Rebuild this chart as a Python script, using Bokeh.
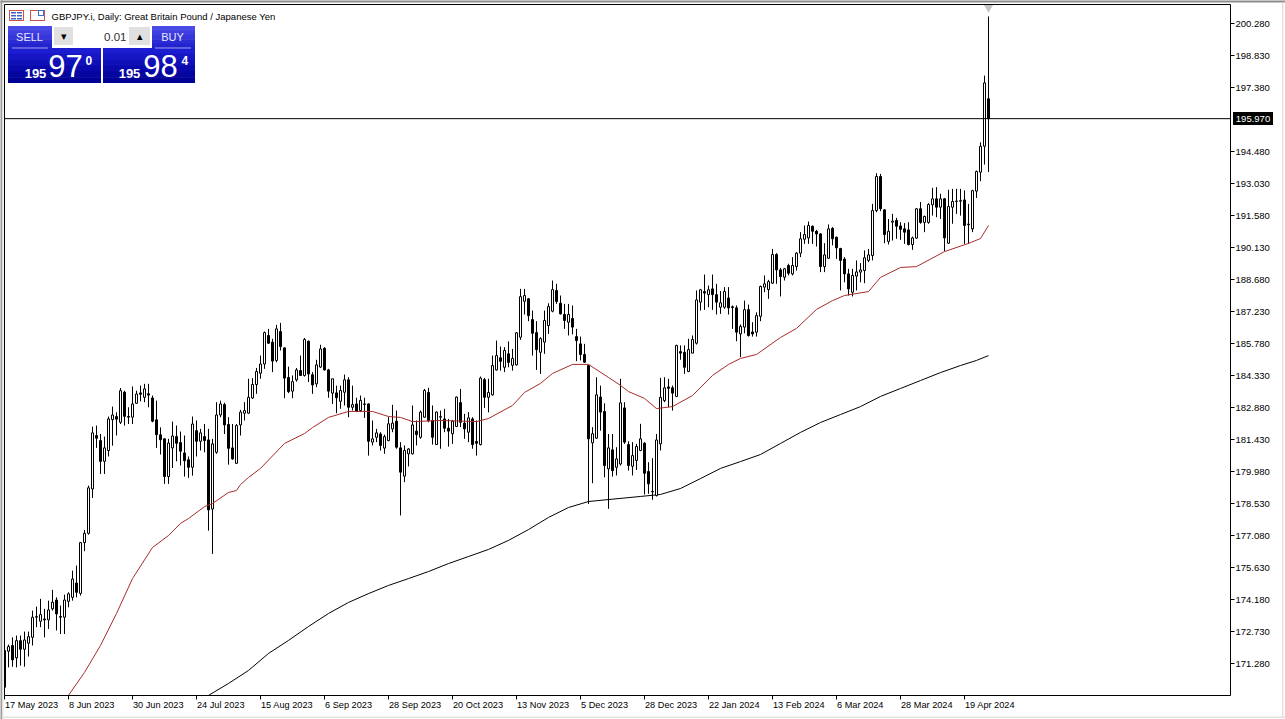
from bokeh.plotting import figure
from bokeh.embed import file_html
from bokeh.resources import INLINE
from bokeh.models import BoxAnnotation, Label, FixedTicker, LinearAxis, Range1d

opens = [
171.88,171.85,172.11,171.55,172.33,171.94,172.21,172.48,173.39,173.21,
173.31,173.27,173.77,174.17,173.42,173.39,174.11,174.29,174.94,174.47,
176.77,177.19,179.20,181.62,181.39,180.45,180.94,182.34,182.48,182.22,
183.58,182.48,182.45,183.08,183.55,183.35,183.51,183.32,182.33,181.65,
181.47,179.76,181.06,181.57,181.30,180.83,180.52,180.18,181.84,181.36,
181.57,181.42,178.29,180.86,182.55,183.02,182.12,181.06,180.36,182.10,
182.63,182.63,183.32,183.93,184.44,184.86,186.15,185.85,185.02,186.33,
185.59,184.25,183.63,184.14,184.56,184.34,185.89,184.37,183.96,184.72,
185.57,184.59,183.54,183.55,183.17,183.58,184.14,182.90,183.05,182.75,
183.05,183.05,181.32,181.54,181.69,181.05,181.39,181.92,182.27,181.06,
179.78,180.79,180.79,181.82,181.54,182.45,183.57,182.30,181.21,182.45,
182.37,181.95,181.70,182.03,183.11,182.18,181.77,182.37,181.35,181.21,
184.15,183.35,183.46,184.59,185.14,184.71,185.32,184.80,184.82,186.07,
187.70,187.81,186.87,186.28,185.39,185.85,186.60,187.25,188.19,187.61,
187.10,186.75,186.92,186.10,185.77,185.29,184.79,181.29,181.50,183.36,
182.71,180.11,180.97,180.18,180.33,182.87,181.21,180.23,180.49,180.94,
181.27,179.99,179.09,178.90,181.24,183.20,183.82,183.78,183.39,185.42,
185.39,184.52,185.35,185.80,187.66,188.14,188.00,188.26,188.00,187.43,
187.43,187.85,187.45,187.40,186.22,186.53,187.32,186.31,186.30,187.02,
188.34,188.23,188.52,189.82,189.12,188.79,189.32,188.94,189.27,189.88,
190.51,190.57,191.10,190.87,190.75,189.27,189.65,191.00,190.60,190.09,
189.61,188.94,188.11,188.84,189.02,189.09,189.55,189.77,191.81,193.35,
191.84,190.41,191.28,191.36,191.11,190.98,190.93,190.27,190.56,191.89,
191.27,191.27,192.07,192.34,191.96,192.34,190.33,191.96,192.22,192.23,
192.29,191.20,190.98,192.69,193.55,194.72,196.87]

highs = [
171.88,172.15,172.48,172.56,172.56,172.74,172.74,173.69,173.87,174.22,
173.77,174.14,174.63,174.29,173.92,174.41,174.52,175.50,175.73,176.80,
177.34,179.35,182.02,182.07,181.69,181.57,182.48,182.93,182.67,183.77,
183.65,182.90,183.84,183.65,183.88,183.96,183.96,183.43,183.20,181.99,
181.47,181.47,182.25,182.07,181.80,181.62,180.67,182.48,182.30,181.92,
182.14,181.92,181.47,183.13,183.20,183.10,182.45,182.14,182.14,182.78,
183.13,184.19,184.22,184.68,185.24,186.33,186.45,186.00,186.63,186.72,
185.59,184.74,184.34,184.68,185.24,186.04,185.92,184.49,185.05,185.73,
185.62,184.64,184.19,183.88,183.88,184.38,184.26,183.88,183.33,183.43,
183.33,183.08,182.30,181.92,181.77,181.66,182.45,183.01,182.75,181.32,
181.17,181.05,182.98,182.30,182.75,183.73,183.78,182.98,182.71,182.75,
182.83,182.37,182.33,183.39,183.73,182.60,182.68,182.45,182.30,184.29,
184.23,184.19,185.24,185.92,185.65,185.62,185.88,185.54,186.30,188.26,
188.26,187.85,187.28,186.80,186.07,187.28,187.61,188.64,188.49,187.96,
187.58,187.58,187.51,186.45,186.10,185.77,184.82,182.00,184.26,183.88,
183.08,181.69,181.69,181.09,184.19,183.13,181.36,181.32,181.24,182.15,
181.32,180.41,180.59,181.69,184.23,184.26,184.19,183.88,185.73,185.70,
185.70,186.00,186.15,188.19,188.26,188.91,188.41,188.91,188.49,188.16,
188.34,188.34,187.51,187.51,186.65,187.73,187.55,186.75,187.20,188.41,
188.87,188.67,190.07,189.88,189.21,189.21,189.40,189.70,189.92,190.83,
191.13,191.31,191.13,190.93,190.78,190.33,191.18,191.06,190.63,190.12,
189.70,189.17,189.17,189.55,189.43,190.00,190.07,192.11,193.50,193.47,
191.86,191.43,191.66,191.48,191.28,191.24,191.28,190.63,191.92,192.19,
191.58,192.14,192.84,192.87,192.57,192.38,192.75,192.79,192.79,192.79,
192.72,192.11,192.75,193.62,194.90,197.92,200.60]

lows = [
170.14,171.12,171.15,171.12,171.20,171.15,171.61,172.11,172.94,172.94,
172.48,172.86,173.69,172.79,172.63,172.63,173.84,174.14,174.29,174.37,
176.38,177.13,178.79,181.06,179.88,179.88,180.67,181.16,181.62,182.14,
182.07,182.14,182.14,183.05,183.17,183.13,182.90,182.22,181.06,180.76,
179.43,179.43,180.15,180.45,180.26,179.76,179.70,179.80,180.67,180.94,
180.86,177.31,176.26,180.79,182.45,181.69,180.30,180.52,180.34,181.62,
182.30,182.60,183.28,183.51,184.19,184.64,185.77,184.49,184.94,185.47,
183.31,183.54,183.31,184.06,184.34,184.29,184.04,183.51,183.81,184.68,
184.56,183.33,183.05,182.63,182.83,182.98,182.45,182.75,182.68,182.68,
182.42,180.71,181.17,181.32,180.94,180.79,181.36,181.77,181.02,178.00,
179.51,180.22,180.76,181.17,181.47,182.42,182.22,181.21,181.20,181.02,
181.77,181.12,181.24,182.00,182.00,181.47,181.32,181.02,180.71,181.17,
182.87,182.67,183.43,184.56,184.56,184.49,184.71,184.56,184.79,185.95,
187.10,186.80,185.24,184.59,184.41,185.32,186.22,187.20,187.58,187.10,
186.45,186.15,186.20,184.99,185.02,184.91,178.52,179.46,181.47,181.84,
179.73,178.30,179.76,179.81,180.26,181.24,180.03,179.81,180.06,180.91,
178.95,178.98,178.71,178.86,180.94,183.13,182.90,182.75,183.36,185.05,
184.41,184.49,185.35,185.74,187.28,187.31,187.43,187.31,187.10,187.13,
187.36,187.10,186.45,185.89,185.17,186.25,186.10,186.10,186.10,186.80,
188.11,187.81,188.49,188.49,187.92,188.64,188.87,188.87,189.09,189.70,
190.30,190.30,190.30,190.18,189.02,189.02,189.62,190.23,189.62,188.19,
188.56,187.96,187.92,188.19,188.56,188.52,189.47,189.55,191.73,191.78,
190.33,190.27,190.45,190.53,190.48,190.30,190.23,190.03,190.53,191.21,
190.83,191.21,191.58,191.51,191.43,189.97,190.30,191.21,191.66,191.58,
190.30,190.30,190.83,192.38,193.14,193.89,193.55]

closes = [
170.22,172.06,171.46,172.33,171.94,172.36,172.51,173.39,173.42,173.51,
173.27,173.72,174.07,173.54,173.39,174.17,174.45,175.12,174.52,176.77,
177.19,179.25,181.74,181.50,180.45,181.06,182.37,182.55,182.36,183.65,
182.49,182.45,183.05,183.50,183.49,183.73,183.45,182.27,181.66,181.43,
179.76,181.28,181.60,181.27,180.91,180.48,180.18,182.14,181.36,181.74,
181.39,178.25,181.24,182.55,183.05,182.10,181.04,180.56,182.07,182.68,
182.75,183.35,183.93,184.52,184.86,186.28,185.80,184.99,186.45,185.65,
184.22,183.61,184.06,184.59,184.34,185.97,184.41,183.91,184.82,185.54,
184.59,183.63,184.19,183.33,183.66,184.14,182.90,183.02,182.71,183.21,
183.03,181.36,181.47,181.74,181.17,181.57,182.15,182.18,181.09,179.96,
180.94,181.01,182.10,181.66,182.68,183.66,182.30,181.54,182.68,182.48,
181.95,181.82,182.27,183.36,182.22,181.92,182.42,181.21,181.27,184.22,
183.35,183.57,184.79,185.24,184.98,185.47,184.93,185.11,186.27,187.91,
187.96,187.05,186.25,185.51,186.01,186.83,187.46,188.23,187.69,187.13,
186.83,187.10,186.53,185.92,185.29,184.94,181.47,181.70,183.46,182.68,
180.26,181.06,180.03,180.56,183.10,181.32,180.26,180.71,181.12,181.47,
179.91,179.43,179.07,181.42,183.35,183.78,183.76,183.54,185.70,185.35,
184.71,185.51,185.97,187.76,188.22,188.07,188.22,188.00,187.66,187.63,
188.14,187.40,187.42,186.30,186.56,187.32,186.15,186.22,187.05,188.37,
188.49,188.59,189.82,189.12,188.82,189.17,188.97,189.32,189.88,190.53,
190.72,191.13,190.87,190.75,189.27,189.80,190.98,190.53,190.12,189.55,
188.94,188.26,188.87,189.03,189.12,189.67,189.80,191.81,193.35,191.89,
190.72,190.87,191.33,191.10,190.96,190.83,190.27,190.57,191.89,191.27,
191.54,192.08,192.34,191.96,192.34,190.57,191.99,192.22,192.24,192.26,
191.13,191.17,192.71,193.58,194.72,197.59,195.97]

ma50_bar = [16,20,24,28,32,37,41,44,46,50,52,56,58,59,61,64,70,75,77,81,86,92,96,99,102,109,118,121,127,130,134,137,142,146,151,154,156,160,163,167,172,177,181,184,188,194,198,203,207,210,216,219,224,228,235,241,244,246]
ma50_val = [169.85,170.89,172.11,173.56,175.14,176.55,177.09,177.64,177.86,178.40,178.54,179.04,179.13,179.40,179.72,180.13,181.26,181.71,181.98,182.44,182.71,182.71,182.48,182.44,182.25,182.30,182.25,182.39,182.98,183.57,183.98,184.43,184.84,184.84,184.25,183.89,183.61,183.30,182.84,182.93,183.43,184.34,184.84,185.11,185.29,186.06,186.47,187.33,187.73,187.96,188.14,188.78,189.23,189.27,189.95,190.32,190.54,191.13]
ma200_bar = [51,56,61,66,71,76,81,86,91,96,101,106,111,116,121,126,131,136,141,146,151,159,164,169,174,179,184,189,194,199,204,209,214,219,224,229,234,239,243,246]
ma200_val = [169.85,170.39,170.98,171.75,172.34,172.97,173.56,174.06,174.46,174.83,175.14,175.46,175.82,176.14,176.46,176.87,177.36,177.91,178.36,178.63,178.72,178.86,178.95,179.22,179.67,180.13,180.44,180.76,181.26,181.76,182.21,182.57,182.93,183.39,183.75,184.11,184.47,184.79,185.02,185.24]

price_ticks = [200.28,198.83,197.38,194.48,193.03,191.58,190.13,188.68,187.23,185.78,184.33,182.88,181.43,179.98,178.53,177.08,175.63,174.18,172.73,171.28]
date_ticks = list(range(0, 256, 16))
date_labels = ["17 May 2023","8 Jun 2023","30 Jun 2023","24 Jul 2023","15 Aug 2023","6 Sep 2023","28 Sep 2023","20 Oct 2023","13 Nov 2023","5 Dec 2023","28 Dec 2023","22 Jan 2024","13 Feb 2024","6 Mar 2024","28 Mar 2024","19 Apr 2024"]
last_price = 195.97
FONT = "Liberation Sans"

def X(px):
    return (px - 4) / 4
def Y(py):
    return 200.28 - (py - 23) / 22.08

p = figure(width=1285, height=719, output_backend="svg", toolbar_location=None,
           x_range=Range1d(X(0), X(1285)), y_range=Range1d(Y(719), Y(0)),
           x_axis_location=None, y_axis_location=None,
           min_border_left=0, min_border_right=0, min_border_top=0, min_border_bottom=0)
p.grid.visible = False
p.background_fill_color = "white"
p.border_fill_color = "white"
p.outline_line_color = None

xs = list(range(len(opens)))
tops = [max(o, c) for o, c in zip(opens, closes)]
bots = [min(o, c) for o, c in zip(opens, closes)]
fills = ["white" if c >= o else "black" for o, c in zip(opens, closes)]

p.line(ma200_bar, ma200_val, line_color="black", line_width=1)
p.segment(xs, lows, xs, highs, line_color="black", line_width=1)
p.vbar(x=xs, width=0.5, top=tops, bottom=bots, fill_color=fills, line_color="black", line_width=1)
p.line(ma50_bar, ma50_val, line_color="#a82c2c", line_width=1)
p.scatter([xs[-1]], [Y(7)], marker="inverted_triangle", size=9, fill_color="#c4c4c4", line_color=None)
p.segment([X(4)], [last_price], [X(1230)], [last_price], line_color="black", line_width=1)

def box(x0, x1, y0, y1, color):
    p.add_layout(BoxAnnotation(left=X(x0 - 0.5), right=X(x1 - 0.5), top=Y(y0 - 0.5), bottom=Y(y1 - 0.5),
                               fill_color=color, fill_alpha=1, line_color=None))

def text(x, y, s, size, color="black", align="left", style="normal"):
    p.add_layout(Label(x=X(x), y=Y(y), text=s, text_font=FONT, text_font_size=f"{size}px",
                       text_color=color, text_align=align, text_baseline="middle",
                       text_font_style=style))

# window edges and chart frame
box(0, 2.5, 0, 719, "#9c9c9c")
box(2.5, 4, 2, 719, "#f4f4f4")
box(0, 1285, 0, 2.5, "#8c8c8c")
box(2.5, 1285, 716.5, 718, "#e2e2e2")
box(1282, 1283.5, 2.5, 718, "#e2e2e2")
p.add_layout(BoxAnnotation(left=X(4), right=X(1230), top=Y(4), bottom=Y(695),
                           fill_alpha=0, line_color="black", line_width=1, line_alpha=1))

# axes placed at the frame edges
ya = LinearAxis(fixed_location=X(1230), ticker=FixedTicker(ticks=price_ticks),
                bounds=(Y(695), Y(4)), major_tick_in=0, major_tick_out=4,
                minor_tick_line_color=None, axis_line_color=None, major_tick_line_color="black",
                major_label_text_font=FONT, major_label_text_font_size="9.5px",
                major_label_text_color="black", major_label_standoff=1,
                major_label_overrides={t: f"{t:.3f}" for t in price_ticks})
p.add_layout(ya, "right")
xa = LinearAxis(fixed_location=Y(695), ticker=FixedTicker(ticks=[], minor_ticks=date_ticks),
                bounds=(X(4), X(1230)), minor_tick_in=0, minor_tick_out=4,
                major_tick_line_color=None, axis_line_color=None, minor_tick_line_color="black")
p.add_layout(xa, "below")

# date labels
for t, s in zip(date_ticks, date_labels):
    text(4.5 + 4 * t, 704, s, 9.2)

# current price tag
box(1233, 1273, 112, 125, "black")
text(1252.5, 118.5, f"{last_price:.3f}", 9.5, "white", "center")

# title and icons
text(51, 15.5, "GBPJPY.i, Daily:  Great Britain Pound / Japanese Yen", 9.5)
box(9, 24, 10, 21, "#d05050")
box(10, 23, 11, 20, "white")
for yy in (12, 15, 18):
    box(11, 16, yy, yy + 1.5, "#4060c0")
    box(17, 22, yy, yy + 1.5, "#4060c0")
box(30, 45, 10, 21, "#d05050")
box(31, 44, 11, 20, "white")
box(38, 44, 10, 16, "#4070c0")
box(39, 43, 11, 15, "white")

# trade panel
def gradient(x0, x1, y0, y1, colors):
    n = len(colors)
    for k, col in enumerate(colors):
        yb = y0 + (y1 - y0) * (k + 1) / n
        box(x0, x1, y0 + (y1 - y0) * k / n, yb if k == n - 1 else yb + 0.6, col)

upper = ["#4a4ae6", "#4040e0", "#3636da", "#2c2cd4", "#2424ce"]
lower = ["#1c1cd0", "#1616c4", "#1010b8", "#0a0aac", "#0505a0", "#000096"]
box(7, 196, 25, 49, "white")
gradient(8, 52, 26, 48, upper)
gradient(152, 195, 26, 48, upper)
gradient(8, 101, 48, 83, lower)
gradient(103, 195, 48, 83, lower)
box(12, 48, 47.5, 48.5, "#a0a0f0")
box(155, 191, 47.5, 48.5, "#a0a0f0")
box(54, 73, 27, 45, "#e0e0e0")
box(73, 129, 27, 45, "white")
box(129, 150, 27, 45, "#e0e0e0")
text(29, 36, "SELL", 11, "#e8e8ff", "center")
text(172, 36, "BUY", 11, "#e8e8ff", "center")
text(126, 36, "0.01", 11.5, "#303030", "right")
text(63, 35.5, "\u25be", 11, "black", "center")
text(139, 35.5, "\u25b4", 11, "black", "center")
text(35, 73, "195", 13, "white", "center", "bold")
text(65, 65.5, "97", 31, "white", "center")
text(85, 59.5, "0", 12, "white", "left", "bold")
text(129, 73, "195", 13, "white", "center", "bold")
text(160, 65.5, "98", 31, "white", "center")
text(181, 59.5, "4", 12, "white", "left", "bold")

open("out.html", "w").write(file_html(p, INLINE))
